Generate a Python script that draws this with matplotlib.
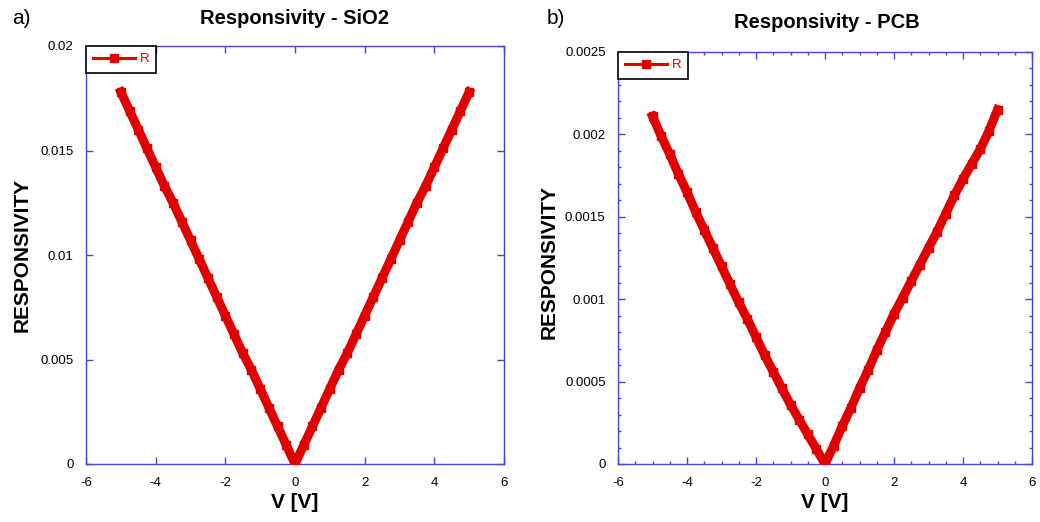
import numpy as np
import matplotlib.pyplot as plt
from matplotlib.lines import Line2D
from matplotlib.ticker import MultipleLocator, FuncFormatter

plt.rcParams['font.family'] = ['Liberation Sans', 'DejaVu Sans']
plt.rcParams['axes.unicode_minus'] = False

# Tensao aplicada (V)
tensao = [-5.0, -4.75, -4.5, -4.25, -4.0, -3.75, -3.5, -3.25, -3.0, -2.75,
          -2.5, -2.25, -2.0, -1.75, -1.5, -1.25, -1.0, -0.75, -0.5, -0.25,
          0.0, 0.25, 0.5, 0.75, 1.0, 1.25, 1.5, 1.75, 2.0, 2.25,
          2.5, 2.75, 3.0, 3.25, 3.5, 3.75, 4.0, 4.25, 4.5, 4.75, 5.0]

# Responsividade - substrato SiO2
resp_sio2 = [0.0178, 0.0169, 0.0160, 0.0151, 0.0142, 0.0133, 0.0125, 0.0116, 0.0107, 0.0098,
             0.0089, 0.0080, 0.0071, 0.0062, 0.0053, 0.0045, 0.0036, 0.0027, 0.0018, 0.0009,
             0.0000, 0.0009, 0.0018, 0.0027, 0.0036, 0.0045, 0.0053, 0.0062, 0.0071, 0.0080,
             0.0089, 0.0098, 0.0107, 0.0116, 0.0125, 0.0133, 0.0142, 0.0151, 0.0160, 0.0169, 0.0178]

# Responsividade - substrato PCB
resp_pcb = [0.00211, 0.00199, 0.00188, 0.00176, 0.00165, 0.00153, 0.00142, 0.00131, 0.00120, 0.00109,
            0.00098, 0.00088, 0.00077, 0.00066, 0.00056, 0.00046, 0.00036, 0.00027, 0.00018, 0.00009,
            0.00000, 0.00011, 0.00023, 0.00034, 0.00046, 0.00057, 0.00069, 0.00080, 0.00091, 0.00101,
            0.00111, 0.00121, 0.00131, 0.00141, 0.00152, 0.00163, 0.00173, 0.00182, 0.00191, 0.00202, 0.00215]

vermelho = '#e00000'
azul = '#4646e0'

fig = plt.figure(figsize=(10.4, 5.22), dpi=100)
W, H = 1040, 522


def px(x0, y0, x1, y1):
    return [x0 / W, 1 - y1 / H, (x1 - x0) / W, (y1 - y0) / H]


def montar_eixo(ax, y_max, y_passo, minor):
    ax.set_xlim(-6, 6)
    ax.set_ylim(0, y_max)
    ax.xaxis.set_major_locator(MultipleLocator(2))
    ax.yaxis.set_major_locator(MultipleLocator(y_passo))
    if minor:
        ax.xaxis.set_minor_locator(MultipleLocator(0.5))
        ax.yaxis.set_minor_locator(MultipleLocator(y_passo / 5))
    ax.yaxis.set_major_formatter(FuncFormatter(lambda v, p: '%g' % round(v, 6)))
    ax.xaxis.set_major_formatter(FuncFormatter(lambda v, p: '%g' % v))
    for s in ax.spines.values():
        s.set_color(azul)
        s.set_linewidth(1.0)
    ax.tick_params(which='both', direction='in', top=True, right=True, color=azul,
                   width=1.0, labelsize=9.5, pad=9)
    ax.tick_params(which='major', length=5)
    ax.tick_params(which='minor', length=2.5)
    leg = ax.legend([Line2D([0], [0], color=vermelho, lw=2.2, marker='s', markersize=5.5)],
                    ['R'], loc='upper left', borderaxespad=0, fancybox=False,
                    edgecolor='black', framealpha=1, fontsize=9.5, handlelength=3.2,
                    borderpad=0.55, handletextpad=0.3)
    leg.get_frame().set_linewidth(1.2)
    for t in leg.get_texts():
        t.set_color(vermelho)


ax1 = fig.add_axes(px(86, 46, 504, 464))
ax1.plot(tensao, resp_sio2, color=vermelho, lw=6.5, marker='s', markersize=5.5,
         solid_joinstyle='miter', zorder=3)
montar_eixo(ax1, 0.02, 0.005, False)

ax2 = fig.add_axes(px(618, 52, 1032, 464))
ax2.plot(tensao, resp_pcb, color=vermelho, lw=6.5, marker='s', markersize=5.5,
         solid_joinstyle='miter', zorder=3)
montar_eixo(ax2, 0.0025, 0.0005, True)

# textos
fig.text(12 / W, 1 - 18 / H, 'a)', fontsize=15, va='center', ha='left')
fig.text(547 / W, 1 - 18 / H, 'b)', fontsize=15, va='center', ha='left')
fig.text(295 / W, 1 - 18 / H, 'Responsivity - SiO2', fontsize=14.5, fontweight='bold',
         ha='center', va='center')
fig.text(827 / W, 1 - 23 / H, 'Responsivity - PCB', fontsize=14.5, fontweight='bold',
         ha='center', va='center')
fig.text(22 / W, 1 - 255 / H, 'RESPONSIVITY', fontsize=15, fontweight='bold',
         rotation=90, ha='center', va='center')
fig.text(549 / W, 1 - 262 / H, 'RESPONSIVITY', fontsize=15, fontweight='bold',
         rotation=90, ha='center', va='center')
fig.text(295 / W, 1 - 503 / H, 'V [V]', fontsize=15, fontweight='bold',
         ha='center', va='center')
fig.text(825 / W, 1 - 503 / H, 'V [V]', fontsize=15, fontweight='bold',
         ha='center', va='center')

fig.savefig('out.png', dpi=100)
